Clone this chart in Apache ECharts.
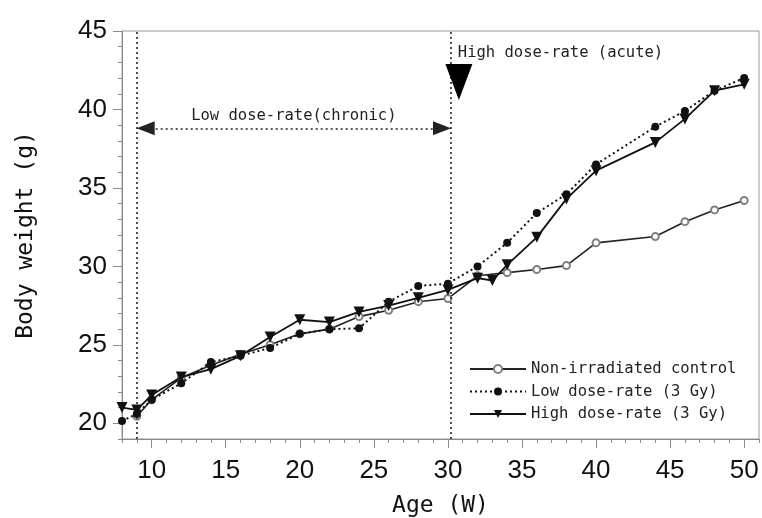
<!DOCTYPE html>
<html>
<head>
    <meta charset="UTF-8">
    <title>body weight</title>
    <script src="https://cdn.jsdelivr.net/npm/echarts@6/dist/echarts.min.js"></script>
    <style>
        *{margin:0;padding:0}
        html, body{ width:100%; height:100%; background:#fff; }
        #main{ width:762px; height:518px; }
    </style>
</head>
<body>
    <div id="main"></div>
    <script type="text/javascript">
        // ages (weeks) and weights (g) per group
        var ageControl = [9, 10, 12, 14, 16, 18, 20, 22, 24, 26, 28, 30, 32, 34, 36, 38, 40, 44, 46, 48, 50];
        var weightControl = [20.45, 21.5, 22.9, 23.7, 24.4, 25.0, 25.7, 26.0, 26.8, 27.2, 27.75, 27.95, 29.4, 29.6, 29.8, 30.05, 31.5, 31.9, 32.85, 33.6, 34.2];

        var ageLow = [8, 9, 10, 12, 14, 16, 18, 20, 22, 24, 26, 28, 30, 32, 34, 36, 38, 40, 44, 46, 48, 50];
        var weightLow = [20.15, 20.6, 21.5, 22.55, 23.9, 24.3, 24.8, 25.7, 26.0, 26.05, 27.75, 28.75, 28.9, 30.0, 31.5, 33.4, 34.6, 36.5, 38.9, 39.9, 41.2, 42.0];

        var ageHigh = [8, 9, 10, 12, 14, 16, 18, 20, 22, 24, 26, 28, 30, 32, 33, 34, 36, 38, 40, 44, 46, 48, 50];
        var weightHigh = [21.0, 20.85, 21.8, 22.95, 23.45, 24.3, 25.5, 26.6, 26.45, 27.1, 27.5, 28.0, 28.5, 29.25, 29.1, 30.1, 31.85, 34.3, 36.1, 37.9, 39.4, 41.2, 41.6];

        var seriesNames = ['Non-irradiated control', 'Low dose-rate (3 Gy)', 'High dose-rate (3 Gy)'];

        var xTickLabels = [10, 15, 20, 25, 30, 35, 40, 45, 50];
        var xMinorTicks = [8, 9, 10, 11, 12, 13, 14, 15, 16, 17, 18, 19, 20, 21, 22, 23, 24, 25, 26, 27, 28, 29,
                           30, 31, 32, 33, 34, 35, 36, 37, 38, 39, 40, 41, 42, 43, 44, 45, 46, 47, 48, 49, 50, 51];
        var yTickLabels = [20, 25, 30, 35, 40, 45];
        var yMinorTicks = [19, 20, 21, 22, 23, 24, 25, 26, 27, 28, 29, 30, 31, 32, 33, 34, 35, 36, 37, 38, 39, 40,
                           41, 42, 43, 44, 45];

        // treatment periods
        var lowStart = 9, lowEnd = 30.2;
        var arrowY = 38.8;

        function pairs(xs, ys) {
            return xs.map(function (x, i) { return [x, ys[i]]; });
        }

        var monoFont = 'DejaVu Sans Mono';
        var numFont = '"Liberation Sans Narrow", "Liberation Sans", sans-serif';
        var axisGray = '#8a8a8a';

        var myChart = echarts.init(document.getElementById('main'));

        option = {
            backgroundColor: '#fff',
            animation: false,
            grid: {
                left: 122, right: 3, top: 31, bottom: 79,
                outerBoundsMode: 'none', containLabel: false,
                show: true, borderColor: '#999', borderWidth: 1
            },
            legend: {
                orient: 'vertical',
                left: 469, top: 361, padding: 0,
                data: seriesNames,
                itemWidth: 56, itemHeight: 10, itemGap: 6.5,
                textStyle: { fontFamily: monoFont, fontSize: 15.5, color: '#222', lineHeight: 16 }
            },
            xAxis: [{
                type: 'value', min: 8, max: 51,
                name: 'Age (W)', nameLocation: 'middle', nameGap: 56,
                nameTextStyle: { fontFamily: monoFont, fontSize: 23, color: '#111' },
                axisLine: { lineStyle: { color: axisGray } },
                axisTick: { customValues: xTickLabels, length: 9, lineStyle: { color: axisGray } },
                axisLabel: { customValues: xTickLabels, fontFamily: numFont, fontSize: 26, color: '#111', margin: 19 },
                splitLine: { show: false }
            }, {
                type: 'value', min: 8, max: 51, position: 'bottom',
                axisLine: { show: false },
                axisTick: { customValues: xMinorTicks, length: 4, lineStyle: { color: axisGray } },
                axisLabel: { show: false },
                splitLine: { show: false }
            }],
            yAxis: [{
                type: 'value', min: 19, max: 45,
                name: 'Body weight (g)', nameLocation: 'middle', nameRotate: 90, nameGap: 84,
                nameTextStyle: { fontFamily: monoFont, fontSize: 23, color: '#111' },
                axisLine: { show: true, lineStyle: { color: axisGray } },
                axisTick: { show: true, customValues: yTickLabels, length: 9, lineStyle: { color: axisGray } },
                axisLabel: { customValues: yTickLabels, fontFamily: numFont, fontSize: 26, color: '#111', margin: 15 },
                splitLine: { show: false }
            }, {
                type: 'value', min: 19, max: 45, position: 'left',
                axisLine: { show: false },
                axisTick: { show: true, customValues: yMinorTicks, length: 4, lineStyle: { color: axisGray } },
                axisLabel: { show: false },
                splitLine: { show: false }
            }],
            series: [
                {
                    name: seriesNames[0], type: 'line',
                    data: pairs(ageControl, weightControl),
                    symbol: 'emptyCircle', symbolSize: 7,
                    itemStyle: { color: '#808080', borderWidth: 1.2 },
                    lineStyle: { color: '#222', width: 1.6, type: 'solid' },
                    z: 3
                },
                {
                    name: seriesNames[1], type: 'line',
                    data: pairs(ageLow, weightLow),
                    symbol: 'circle', symbolSize: 8,
                    itemStyle: { color: '#111' },
                    lineStyle: { color: '#111', width: 2, type: [2, 3] },
                    z: 4
                },
                {
                    name: seriesNames[2], type: 'line',
                    data: pairs(ageHigh, weightHigh),
                    symbol: 'triangle', symbolRotate: 180, symbolSize: 11,
                    itemStyle: { color: '#111' },
                    lineStyle: { color: '#111', width: 1.8 },
                    z: 5
                },
                {
                    name: 'annotations', type: 'line', data: [],
                    markLine: {
                        silent: true,
                        symbol: ['none', 'none'],
                        lineStyle: { color: '#222', width: 1.6, type: [2, 3] },
                        label: { show: false },
                        data: [
                            { xAxis: lowStart },
                            { xAxis: lowEnd },
                            [
                                { coord: [lowStart + 0.6, arrowY], symbol: 'triangle', symbolSize: [14, 18] },
                                {
                                    coord: [lowEnd - 0.6, arrowY], symbol: 'triangle', symbolSize: [14, 18],
                                    label: {
                                        show: true, position: 'middle', distance: 4,
                                        formatter: 'Low dose-rate(chronic)',
                                        fontFamily: monoFont, fontSize: 15.5, color: '#222'
                                    }
                                }
                            ]
                        ]
                    },
                    markPoint: {
                        silent: true,
                        data: [
                            {
                                coord: [30.74, 41.75], symbol: 'triangle', symbolRotate: 180,
                                symbolSize: [27, 36], itemStyle: { color: '#000' }, label: { show: false }
                            },
                            {
                                coord: [lowEnd, 43.6], symbol: 'circle', symbolSize: 0,
                                label: {
                                    show: true, position: 'right', distance: 7,
                                    formatter: 'High dose-rate (acute)',
                                    fontFamily: monoFont, fontSize: 15.5, color: '#222'
                                }
                            }
                        ]
                    }
                }
            ]
        };
        myChart.setOption(option);
    </script>
</body>
</html>
